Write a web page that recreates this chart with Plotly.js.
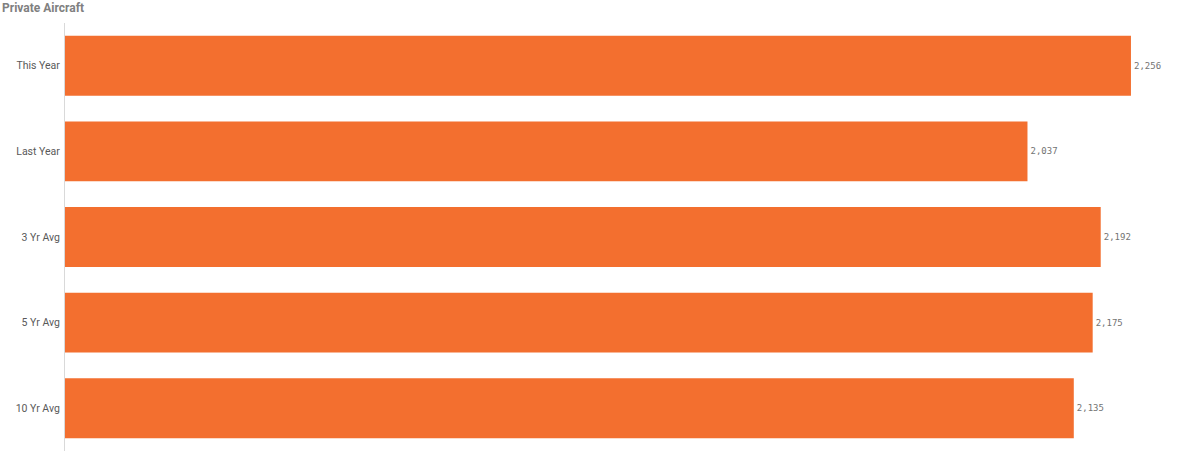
<!DOCTYPE html>
<html>
<head>
<meta charset="utf-8">
<script src="https://cdn.plot.ly/plotly-3.0.1.min.js"></script>
<style>
  html, body { margin: 0; padding: 0; background: #fff; }
  #chart { width: 1200px; height: 451px; }
</style>
</head>
<body>
<div id="chart"></div>
<script>
// values
const periods = ['This Year', 'Last Year', '3 Yr Avg', '5 Yr Avg', '10 Yr Avg'];
const aircraft = [2256, 2037, 2192, 2175, 2135];

const labels = aircraft.map(v => v.toLocaleString('en-US'));

var bars = {
    type: 'bar',
    orientation: 'h',
    x: aircraft,
    y: periods,
    text: labels,
    textposition: 'outside',
    cliponaxis: false,
    textfont: { family: 'DejaVu Sans Mono', size: 9, color: '#737373' },
    marker: { color: '#f36f2f', line: { width: 0 } },
    hoverinfo: 'none'
};

var layout = {
    width: 1200,
    height: 451,
    margin: { l: 65, r: 1, t: 23, b: 0 },
    paper_bgcolor: '#ffffff',
    plot_bgcolor: '#ffffff',
    bargap: 0.3,
    showlegend: false,
    font: { family: 'Roboto, sans-serif', color: '#595959' },
    title: {
        text: '<b>Private Aircraft</b>',
        font: { family: 'Roboto, sans-serif', size: 12, color: '#808080' },
        x: 0.0017, xref: 'container', xanchor: 'left',
        y: 0.982, yref: 'container', yanchor: 'middle'
    },
    xaxis: {
        range: [0, 2400],
        showgrid: false,
        zeroline: false,
        showticklabels: false,
        showline: false,
        ticks: ''
    },
    yaxis: {
        autorange: 'reversed',
        showgrid: false,
        zeroline: false,
        showline: true,
        linecolor: '#d9d9d9',
        linewidth: 1,
        ticks: '',
        ticklabelstandoff: 2,
        tickfont: { family: 'Roboto, sans-serif', size: 10.5, color: '#595959' }
    }
};

Plotly.newPlot('chart', [bars], layout, { displayModeBar: false, staticPlot: true });
</script>
</body>
</html>
